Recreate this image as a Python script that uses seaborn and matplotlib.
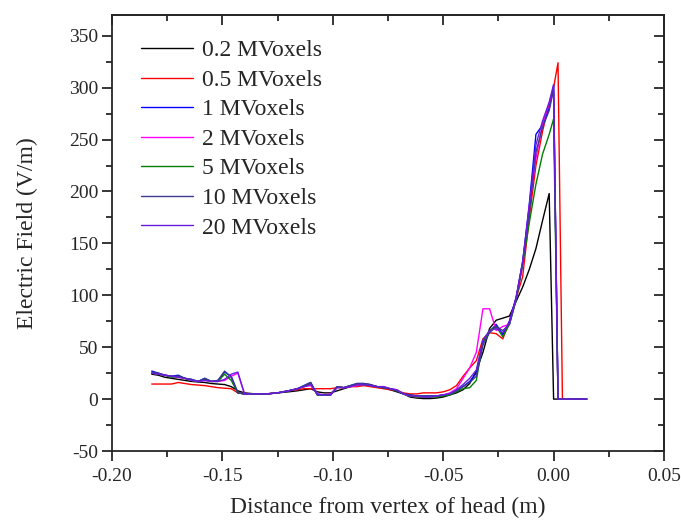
import matplotlib
matplotlib.use("Agg")
import matplotlib.pyplot as plt
from matplotlib.ticker import MultipleLocator, AutoMinorLocator, FuncFormatter
import seaborn as sns
import pandas as pd

distance = [-0.182, -0.179, -0.176, -0.173, -0.170, -0.167, -0.164, -0.161, -0.158, -0.155,
            -0.152, -0.149, -0.146, -0.143, -0.140, -0.135, -0.130, -0.125, -0.120, -0.116,
            -0.113, -0.110, -0.107, -0.104, -0.101, -0.098, -0.095, -0.092, -0.089, -0.086,
            -0.083, -0.080, -0.077, -0.074, -0.071, -0.068, -0.065, -0.062, -0.059, -0.056,
            -0.053, -0.050, -0.047, -0.044, -0.041, -0.038, -0.035, -0.032, -0.029, -0.026,
            -0.023, -0.020, -0.017, -0.014, -0.011, -0.008, -0.005, -0.002, 0.000, 0.002,
            0.004, 0.015]

field_02 = [24, 23, 21, 20, 19, 18, 17, 16.5, 16, 15, 14.5, 14, 12, 8, 6, 5, 5, 6, 7, 8,
            9, 10, 7, 6, 6, 8, 10, 12, 13, 14, 13, 12, 11, 9, 7, 5, 2, 1, 0.5, 0.5,
            1, 2, 4, 6, 9, 15, 27, 45, 68, 76, 78, 80, 94, 108, 125, 145, 172, 198, 0, 0, 0, 0]
field_05 = [14.5, 14.5, 14.5, 14.5, 16, 15, 14, 13.5, 13, 12, 11, 10.5, 10, 6, 5, 5, 5, 6, 8, 9,
            10, 10, 10, 10, 10, 11, 11, 12, 12, 13, 12, 11, 10, 9, 8, 6, 5, 5, 6, 6,
            6, 7, 9, 13, 22, 30, 37, 58, 64, 63, 58, 75, 97, 118, 175, 225, 258, 285, 300, 324, 0, 0]
field_1 = [27, 25, 23, 22, 23, 20, 19, 17, 20, 17, 18, 26, 22, 6, 5, 5, 5, 6, 8, 10,
           13, 16, 4, 4, 4, 12, 11, 13, 15, 15, 14, 12, 11, 10, 8, 5, 4, 3, 3, 3,
           3, 4, 5, 8, 12, 17, 25, 55, 65, 72, 62, 75, 98, 132, 188, 255, 264, 280, 302, 0, 0, 0]
field_2 = [25, 24, 23, 22, 21, 20, 18, 17, 18, 17, 17, 18, 22, 25, 5, 5, 5, 6, 8, 10,
           12, 13, 5, 4, 5, 12, 11, 12, 13, 14, 13, 12, 12, 10, 9, 5, 3, 2, 2, 2,
           3, 4, 6, 10, 20, 30, 45, 87, 87, 66, 70, 72, 97, 128, 185, 232, 265, 285, 296, 0, 0, 0]
field_5 = [25, 24, 23, 21, 22, 20, 18, 17, 19, 17, 17, 24, 18, 6, 5, 5, 5, 6, 8, 10,
           12, 15, 4, 4, 4, 12, 11, 13, 14, 14, 13, 12, 11, 10, 8, 5, 3, 2, 2, 2,
           2, 3, 4, 7, 10, 11, 18, 55, 66, 70, 60, 72, 95, 130, 170, 207, 236, 255, 270, 0, 0, 0]
field_10 = [26, 25, 23, 22, 22, 20, 19, 17, 20, 17, 18, 27, 21, 6, 5, 5, 5, 6, 8, 10,
            13, 16, 4, 4, 4, 12, 11, 13, 15, 15, 14, 12, 11, 10, 8, 5, 4, 3, 3, 3,
            3, 4, 5, 8, 12, 16, 22, 52, 64, 70, 66, 72, 96, 132, 180, 238, 262, 278, 298, 0, 0, 0]
field_20 = [25, 24, 23, 22, 21, 20, 18, 17, 18, 17, 17, 19, 24, 26, 5, 5, 5, 6, 8, 10,
            12, 14, 5, 4, 4, 11, 11, 12, 14, 14, 13, 12, 12, 10, 9, 5, 3, 3, 2, 2,
            3, 4, 5, 9, 14, 20, 28, 57, 66, 68, 64, 74, 97, 133, 186, 245, 268, 286, 303, 0, 0, 0]

labels = ["0.2 MVoxels", "0.5 MVoxels", "1 MVoxels", "2 MVoxels",
          "5 MVoxels", "10 MVoxels", "20 MVoxels"]
series = [field_02, field_05, field_1, field_2, field_5, field_10, field_20]
colors = ["#000000", "#ff0000", "#0000ff", "#ff00ff", "#008000", "#3a3a8f", "#6a1be0"]

rows = []
for lab, vals in zip(labels, series):
    for x, y in zip(distance, vals):
        rows.append({"Distance": x, "Field": y, "Mesh": lab})
df = pd.DataFrame(rows)

sns.set_style("ticks")
plt.rcParams["font.family"] = ["Liberation Serif", "DejaVu Serif"]
plt.rcParams["axes.unicode_minus"] = False

fig = plt.figure(figsize=(6.81, 5.23), dpi=100)
ax = fig.add_axes([112 / 681, 1 - 451 / 523, (664 - 112) / 681, (451 - 15) / 523])

sns.lineplot(data=df, x="Distance", y="Field", hue="Mesh", hue_order=labels,
             palette=dict(zip(labels, colors)), estimator=None, sort=False,
             linewidth=1.0, ax=ax)

ax.set_xlim(-0.20, 0.05)
ax.set_ylim(-50, 370)
ax.xaxis.set_major_locator(MultipleLocator(0.05))
ax.xaxis.set_minor_locator(AutoMinorLocator(2))
ax.yaxis.set_major_locator(MultipleLocator(50))
ax.yaxis.set_minor_locator(AutoMinorLocator(2))
ax.xaxis.set_major_formatter(FuncFormatter(
    lambda v, p: "0.00" if abs(v) < 1e-9 else f"{v:.2f}"))

for s in ax.spines.values():
    s.set_linewidth(1.3)
    s.set_visible(True)
ax.tick_params(which="major", direction="out", length=7, width=1.3, labelsize=14, pad=3)
ax.tick_params(axis="x", which="major", pad=5)
ax.tick_params(which="minor", direction="out", length=4, width=1.3)

sec_y = ax.secondary_yaxis("right")
sec_y.yaxis.set_major_locator(MultipleLocator(50))
sec_y.yaxis.set_minor_locator(AutoMinorLocator(2))
sec_y.tick_params(which="major", direction="in", length=7, width=1.3, labelright=False)
sec_y.tick_params(which="minor", direction="in", length=4, width=1.3)
sec_y.spines["right"].set_linewidth(1.3)

sec_x = ax.secondary_xaxis("top")
sec_x.xaxis.set_major_locator(MultipleLocator(0.05))
sec_x.xaxis.set_minor_locator(AutoMinorLocator(2))
sec_x.tick_params(which="major", direction="in", length=7, width=1.3, labeltop=False)
sec_x.tick_params(which="minor", direction="in", length=4, width=1.3)
sec_x.spines["top"].set_linewidth(1.3)

ax.set_xlabel("Distance from vertex of head (m)", fontsize=17, labelpad=9)
ax.set_ylabel("Electric Field (V/m)", fontsize=17, labelpad=22)

ax.legend(loc="upper left", frameon=False, fontsize=17, handlelength=2.2,
          handletextpad=0.4, labelspacing=0.34, borderaxespad=0.0,
          bbox_to_anchor=(0.035, 0.965))

fig.savefig("out.png", dpi=100)
